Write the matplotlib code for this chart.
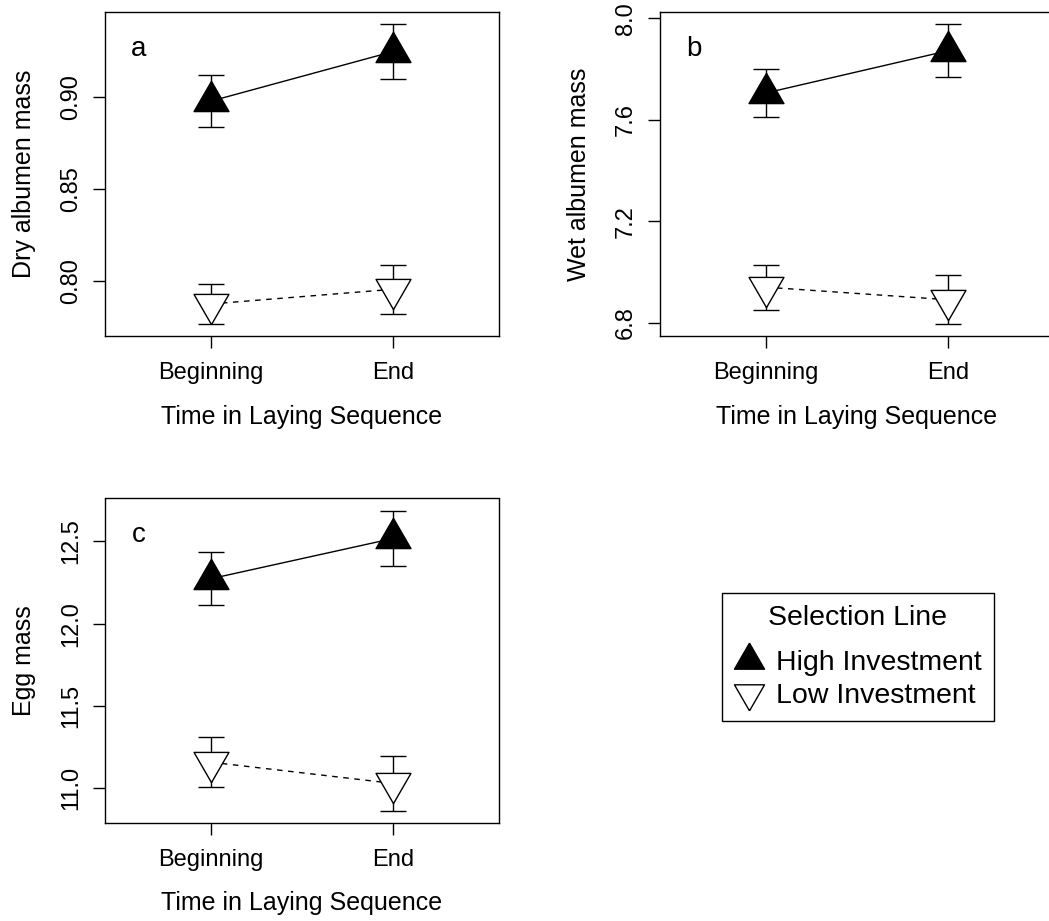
import matplotlib
matplotlib.use("Agg")
import matplotlib.pyplot as plt
from matplotlib.lines import Line2D
import numpy as np

plt.rcParams['font.family'] = ['Liberation Sans', 'DejaVu Sans']
plt.rcParams['font.size'] = 17

# ---- data ----
times = ["Beginning", "End"]
lines = ["High Investment", "Low Investment"]

dry_high = [0.898, 0.925]
dry_high_se = [0.0143, 0.0148]
dry_low = [0.7877, 0.7957]
dry_low_se = [0.0109, 0.0132]

wet_high = [7.7055, 7.872]
wet_high_se = [0.0955, 0.104]
wet_low = [6.941, 6.8915]
wet_low_se = [0.089, 0.0955]

egg_high = [12.273, 12.518]
egg_high_se = [0.162, 0.170]
egg_low = [11.157, 11.028]
egg_low_se = [0.151, 0.166]

dry_ticks = [0.80, 0.85, 0.90]
wet_ticks = [6.8, 7.2, 7.6, 8.0]
egg_ticks = [11.0, 11.5, 12.0, 12.5]

# R-like equilateral triangles (centroid at the data point)
UP = [(0, 1.555), (1.347, -0.778), (-1.347, -0.778), (0, 1.555)]
DOWN = [(0, -1.555), (1.347, 0.778), (-1.347, 0.778), (0, -1.555)]

W, H = 1049, 921
fig = plt.figure(figsize=(W / 100, H / 100), dpi=100)

TICK_FS = 17
LAB_FS = 18
LETTER_FS = 20
LEG_FS = 20.5


def axpos(left, top, right, bottom):
    return [left / W, 1 - bottom / H, (right - left) / W, (bottom - top) / H]


def panel(rect, high, high_se, low, low_se, ticks, fmt, ylabel, letter):
    ax = fig.add_axes(rect)
    x = np.arange(1, len(times) + 1)
    ms = 29
    for m, se, ls, mk, fc in [(high, high_se, '-', UP, 'black'),
                              (low, low_se, (0, (4, 4)), DOWN, 'white')]:
        ax.errorbar(x, m, yerr=se, fmt='none', ecolor='black', elinewidth=1.0,
                    capsize=9.6, capthick=1.0, zorder=2)
        ax.plot(x, m, color='black', lw=1.0, linestyle=ls, zorder=2)
        ax.plot(x, m, linestyle='none', marker=mk, ms=ms, mfc=fc, mec='black',
                mew=1.0, zorder=3)
    lo = min(min(np.array(high) - np.array(high_se)), min(np.array(low) - np.array(low_se)))
    hi = max(max(np.array(high) + np.array(high_se)), max(np.array(low) + np.array(low_se)))
    r = hi - lo
    ax.set_ylim(lo - 0.04 * r, hi + 0.04 * r)
    ax.set_xlim(0.42, 2.58)
    ax.set_xticks(x)
    ax.set_xticklabels(times)
    ax.set_yticks(ticks)
    ax.set_yticklabels([fmt.format(t) for t in ticks], rotation=90, va='center')
    ax.tick_params(axis='both', length=8.6, width=1.0, direction='out', labelsize=TICK_FS)
    ax.tick_params(axis='y', pad=8)
    ax.tick_params(axis='x', pad=10)
    for s in ax.spines.values():
        s.set_linewidth(1.0)
    ax.set_xlabel("Time in Laying Sequence", fontsize=LAB_FS)
    ax.set_ylabel(ylabel, fontsize=LAB_FS)
    ax.xaxis.set_label_coords(0.5, -80.7 / (rect[3] * H))
    ax.xaxis.label.set_va('center')
    ax.yaxis.set_label_coords(-81.0 / (rect[2] * W), 0.5)
    ax.yaxis.label.set_va('center')
    ax.text(0.085, 0.887, letter, transform=ax.transAxes, fontsize=LETTER_FS,
            ha='center', va='center')
    return ax


panel(axpos(105, 12.3, 499, 336), dry_high, dry_high_se, dry_low, dry_low_se,
      dry_ticks, "{:.2f}", "Dry albumen mass", "a")
panel(axpos(660, 12.3, 1054, 336), wet_high, wet_high_se, wet_low, wet_low_se,
      wet_ticks, "{:.1f}", "Wet albumen mass", "b")
panel(axpos(105, 498.5, 499, 822.7), egg_high, egg_high_se, egg_low, egg_low_se,
      egg_ticks, "{:.1f}", "Egg mass", "c")

handles = [Line2D([], [], linestyle='none', marker=UP, ms=25, mfc='black', mec='black', mew=1.0),
           Line2D([], [], linestyle='none', marker=DOWN, ms=25, mfc='white', mec='black', mew=1.0)]
leg = fig.legend(handles, lines, title="Selection Line", loc='center',
                 bbox_to_anchor=(857.9 / W, 1 - 657 / H), fontsize=LEG_FS,
                 title_fontsize=LEG_FS,
                 frameon=True, fancybox=False, edgecolor='black', framealpha=1,
                 handlelength=1.1, handletextpad=0.4, labelspacing=0.26,
                 borderpad=0.42, borderaxespad=0)
leg.get_frame().set_linewidth(1.0)
# extra gap between the legend title and its entries
leg._legend_box.sep = 13.3

fig.savefig("out.png", dpi=100)
